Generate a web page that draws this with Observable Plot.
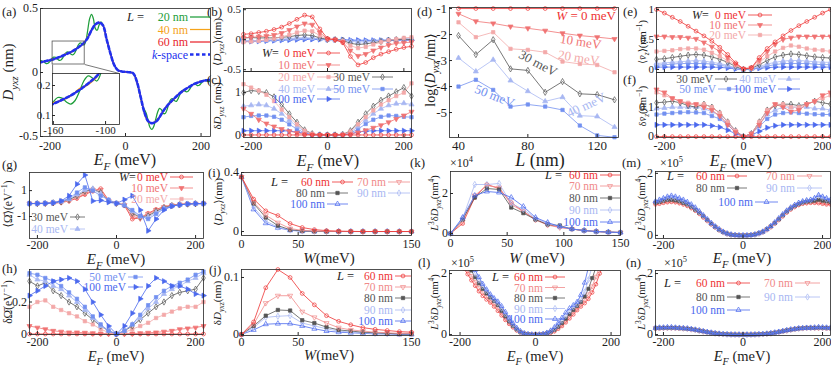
<!DOCTYPE html>
<html><head><meta charset="utf-8">
<script src="https://cdn.jsdelivr.net/npm/d3@7"></script>
<script src="https://cdn.jsdelivr.net/npm/@observablehq/plot@0.6"></script>
<style>
body{margin:0;background:#fff;}
#fig{position:relative;width:831px;height:366px;overflow:hidden;background:#fff;}
</style></head><body><div id="fig"></div>
<script>
// ---------------- data ----------------
const EA5 = [-230,-225,-220,-215,-210,-205,-200,-195,-190,-185,-180,-175,-170,-165,-160,-155,-150,-145,-140,-135,-130,-125,-120,-115,-110,-105,-100,-95,-90,-85,-80,-75,-70,-65,-60,-55,-50,-45,-40,-35,-30,-25,-20,-15,-10,-5,0,5,10,15,20,25,30,35,40,45,50,55,60,65,70,75,80,85,90,95,100,105,110,115,120,125,130,135,140,145,150,155,160,165,170,175,180,185,190,195,200,205,210,215,220,225,230];
const EA10 = [-230,-220,-210,-200,-190,-180,-170,-160,-150,-140,-130,-120,-110,-100,-90,-80,-70,-60,-50,-40,-30,-20,-10,0,10,20,30,40,50,60,70,80,90,100,110,120,130,140,150,160,170,180,190,200,210,220,230];
const E20 = [-220,-200,-180,-160,-140,-120,-100,-80,-60,-40,-20,0,20,40,60,80,100,120,140,160,180,200,220];
const E10 = [-220,-210,-200,-190,-180,-170,-160,-150,-140,-130,-120,-110,-100,-90,-80,-70,-60,-50,-40,-30,-20,-10,0,10,20,30,40,50,60,70,80,90,100,110,120,130,140,150,160,170,180,190,200,210,220];
const Lsizes = [40,50,60,70,80,90,100,110,120,130];
const Wvals = [0,10.7,21.4,32.1,42.9,53.6,64.3,75,85.7,96.4,107.1,117.9,128.6,139.3,150];

// (a) D_yxz vs E_F
const aL20 = [0.085,0.092,0.090,0.080,0.070,0.072,0.088,0.108,0.120,0.118,0.105,0.095,0.100,0.120,0.145,0.160,0.158,0.145,0.138,0.150,0.180,0.215,0.232,0.225,0.215,0.245,0.330,0.420,0.455,0.420,0.345,0.330,0.370,0.395,0.375,0.325,0.265,0.205,0.150,0.100,0.060,0.032,0.016,0.010,0.008,0.006,0.005,0.003,0.002,0.000,-0.008,-0.030,-0.075,-0.135,-0.200,-0.260,-0.290,-0.320,-0.380,-0.430,-0.445,-0.420,-0.365,-0.310,-0.280,-0.290,-0.320,-0.320,-0.290,-0.240,-0.210,-0.205,-0.220,-0.225,-0.200,-0.165,-0.140,-0.140,-0.150,-0.148,-0.130,-0.105,-0.090,-0.092,-0.102,-0.100,-0.085,-0.068,-0.060,-0.064,-0.072,-0.068,-0.058];
const aL40 = [0.078,0.086,0.088,0.094,0.108,0.113,0.124,0.143,0.150,0.165,0.19,0.203,0.228,0.28,0.335,0.372,0.392,0.372,0.262,0.15,0.06,0.018,0.008,0.005,0.002,-0.005,-0.072,-0.19,-0.315,-0.385,-0.398,-0.38,-0.345,-0.305,-0.258,-0.232,-0.205,-0.168,-0.15,-0.132,-0.107,-0.093,-0.083,-0.068,-0.064,-0.057,-0.052];
const aL60 = [0.077,0.083,0.089,0.097,0.105,0.114,0.127,0.139,0.153,0.167,0.186,0.206,0.233,0.27,0.331,0.376,0.391,0.371,0.261,0.15,0.06,0.018,0.008,0.005,0.002,-0.005,-0.071,-0.19,-0.311,-0.381,-0.397,-0.385,-0.351,-0.301,-0.261,-0.231,-0.2,-0.171,-0.149,-0.128,-0.109,-0.093,-0.08,-0.069,-0.063,-0.058,-0.054];
const aK = [0.076,0.083,0.090,0.096,0.104,0.115,0.126,0.139,0.152,0.167,0.185,0.207,0.232,0.27,0.33,0.375,0.39,0.37,0.26,0.15,0.06,0.018,0.008,0.005,0.002,-0.005,-0.07,-0.19,-0.31,-0.38,-0.396,-0.385,-0.35,-0.30,-0.262,-0.23,-0.20,-0.172,-0.148,-0.128,-0.11,-0.092,-0.08,-0.07,-0.063,-0.058,-0.054];

// (b) <D_yxz> vs E_F for W
const bW0 = [0.09,0.10,0.12,0.14,0.17,0.21,0.27,0.34,0.41,0.38,0.18,0.02,0.0,-0.05,-0.28,-0.42,-0.38,-0.3,-0.24,-0.2,-0.16,-0.13,-0.11];
const bW10 = [0.03,0.04,0.05,0.06,0.08,0.11,0.16,0.22,0.27,0.25,0.12,0.01,0,-0.04,-0.18,-0.27,-0.24,-0.18,-0.13,-0.09,-0.06,-0.05,-0.04];
const bW20 = [-0.04,-0.03,-0.02,0.0,0.02,0.05,0.08,0.12,0.15,0.14,0.07,0.01,0,-0.02,-0.1,-0.14,-0.12,-0.08,-0.04,-0.01,0.01,0.03,0.04];
const bW30 = [0.03,0.035,0.03,0.03,0.03,0.04,0.05,0.07,0.08,0.07,0.03,0.005,0,-0.01,-0.06,-0.08,-0.07,-0.05,-0.03,-0.01,0.0,0.01,0.0];
const bW40 = [-0.02,-0.02,-0.015,-0.01,0.0,0.01,0.02,0.03,0.035,0.03,0.015,0.002,0,-0.005,-0.025,-0.04,-0.035,-0.025,-0.015,-0.005,0.0,0.01,0.015];
const bW50 = [-0.02,-0.02,-0.02,-0.015,-0.01,0.0,0.01,0.015,0.02,0.02,0.01,0.001,0,-0.003,-0.015,-0.02,-0.02,-0.015,-0.01,-0.005,0.0,0.005,0.01];
const bW100 = [-0.03,-0.03,-0.025,-0.02,-0.015,-0.01,-0.005,0.0,0.005,0.005,0.003,0.0,0,0.0,-0.005,-0.008,-0.01,-0.01,-0.01,-0.01,-0.01,-0.01,-0.01];

// (c) delta D_yxz vs E_F
const cW0 = [0,0,0,0,0,0,0,0,0,0,0,0,0,0,0,0,0,0,0,0,0,0,0];
const cW10 = [0.62,0.5,0.36,0.27,0.2,0.14,0.09,0.05,0.02,0.005,0,0,0,0.003,0.02,0.06,0.11,0.17,0.23,0.3,0.38,0.46,0.55];
const cW20 = [1.2,1.12,1.05,0.95,0.8,0.6,0.42,0.25,0.1,0.03,0,0,0,0.01,0.08,0.25,0.42,0.58,0.72,0.82,0.92,1.0,1.22];
const cW30 = [1.0,1.05,1.03,1.0,0.9,0.72,0.5,0.3,0.12,0.03,0.0,0,0,0.01,0.1,0.3,0.5,0.68,0.82,0.92,1.02,1.12,0.92];
const cW40 = [0.68,0.7,0.72,0.7,0.62,0.5,0.35,0.2,0.08,0.02,0,0,0,0.01,0.06,0.2,0.35,0.5,0.62,0.7,0.74,0.75,0.72];
const cW50 = [0.42,0.45,0.46,0.46,0.43,0.36,0.25,0.14,0.05,0.01,0,0,0,0.005,0.04,0.14,0.26,0.36,0.43,0.46,0.45,0.43,0.42];
const cW100 = [0.1,0.1,0.1,0.1,0.1,0.1,0.09,0.07,0.04,0.01,0,0,0,0.005,0.03,0.07,0.09,0.1,0.1,0.1,0.1,0.1,0.1];

// (d) log<D> vs L
const dW0 = [-1,-1,-1,-1,-1,-1,-1,-1,-1,-1];
const dW10 = [-1.2,-1.49,-1.57,-1.69,-1.76,-1.85,-1.95,-2.04,-2.1,-2.17];
const dW20 = [-1.53,-2.1,-1.91,-2.55,-2.59,-2.68,-3.04,-3.13,-3.17,-3.45];
const dW30 = [-2.04,-2.77,-2.2,-3.32,-3.38,-4.22,-3.81,-4.28,-4.31,-4.51];
const dW40 = [-2.9,-3.42,-2.97,-3.77,-4.18,-4.57,-4.41,-5.12,-5.15,-5.56];
const dW50 = [-4.0,-3.74,-4.13,-4.77,-4.69,-4.77,-4.9,-5.5,-5.88,-5.95];

// (e) <v_z> vs E_F
const eW0 = [1.0,0.94,0.87,0.8,0.72,0.64,0.56,0.47,0.37,0.25,0.11,0.01,0.03,0.2,0.35,0.46,0.56,0.65,0.73,0.8,0.87,0.94,1.0];
const eW10 = [0.55,0.55,0.54,0.54,0.53,0.51,0.45,0.38,0.3,0.2,0.09,0.01,0.03,0.16,0.3,0.42,0.5,0.53,0.55,0.55,0.55,0.55,0.55];
const eW20 = [0.3,0.31,0.32,0.34,0.35,0.35,0.33,0.28,0.22,0.15,0.07,0.01,0.02,0.12,0.22,0.3,0.36,0.4,0.38,0.35,0.33,0.32,0.3];
const eW30 = [0.17,0.18,0.2,0.22,0.24,0.25,0.24,0.21,0.17,0.12,0.05,0.0,0.02,0.08,0.15,0.21,0.24,0.26,0.25,0.23,0.21,0.2,0.19];
const eW40 = [0.1,0.11,0.12,0.13,0.14,0.15,0.14,0.12,0.1,0.07,0.03,0.0,0.01,0.05,0.09,0.12,0.14,0.15,0.15,0.14,0.13,0.12,0.12];
const eW50 = [0.07,0.08,0.09,0.1,0.1,0.1,0.1,0.09,0.07,0.05,0.02,0.0,0.01,0.03,0.06,0.08,0.1,0.1,0.1,0.1,0.09,0.08,0.08];
const eW100 = [0.04,0.04,0.04,0.04,0.04,0.04,0.04,0.04,0.035,0.025,0.01,0.0,0.005,0.02,0.03,0.04,0.04,0.04,0.04,0.04,0.04,0.04,0.04];

// (f) delta v_z vs E_F
const fW0 = [0,0,0,0,0,0,0,0,0,0,0,0,0,0,0,0,0,0,0,0,0,0,0];
const fW10 = [0.16,0.15,0.13,0.12,0.11,0.11,0.1,0.09,0.07,0.04,0.015,0.0,0.01,0.04,0.08,0.11,0.1,0.085,0.09,0.11,0.12,0.14,0.15];
const fW20 = [0.15,0.14,0.13,0.12,0.115,0.11,0.11,0.1,0.08,0.05,0.02,0.0,0.01,0.05,0.09,0.11,0.11,0.1,0.1,0.11,0.12,0.13,0.14];
const fW30 = [0.115,0.117,0.12,0.115,0.105,0.1,0.11,0.1,0.08,0.05,0.02,0.0,0.01,0.05,0.09,0.105,0.11,0.11,0.105,0.11,0.12,0.115,0.11];
const fW40 = [0.095,0.097,0.1,0.1,0.1,0.1,0.095,0.085,0.07,0.045,0.02,0.0,0.01,0.04,0.075,0.09,0.1,0.1,0.1,0.1,0.095,0.095,0.09];
const fW50 = [0.075,0.078,0.08,0.082,0.083,0.082,0.08,0.07,0.06,0.04,0.015,0.0,0.01,0.035,0.06,0.075,0.08,0.082,0.08,0.078,0.076,0.075,0.075];
const fW100 = [0.04,0.04,0.04,0.04,0.04,0.04,0.04,0.037,0.032,0.022,0.01,0.0,0.005,0.018,0.03,0.037,0.04,0.04,0.04,0.04,0.04,0.04,0.04];

// (g) <Omega> vs E_F
const gW0 = [0,0,0,0.03,0.08,0.2,0.4,0.7,0.95,1.15,0.25,0.02,-0.15,-1.2,-1.1,-0.75,-0.45,-0.25,-0.12,-0.06,-0.03,-0.01,0];
const gW10 = [0,0,0.01,0.04,0.1,0.22,0.45,0.75,1.05,1.05,0.2,0.02,-0.12,-1.0,-1.15,-0.8,-0.5,-0.28,-0.14,-0.07,-0.03,-0.01,0];
const gW20 = [0,0.01,0.02,0.05,0.12,0.25,0.5,0.85,1.1,0.95,0.2,0.02,-0.1,-0.85,-1.1,-0.85,-0.55,-0.3,-0.15,-0.08,-0.04,-0.01,0];
const gW30 = [0,0.01,0.02,0.06,0.14,0.3,0.6,0.95,1.1,0.85,0.2,0.02,-0.1,-0.75,-1.05,-0.95,-0.6,-0.32,-0.16,-0.08,-0.04,-0.01,0];
const gW40 = [0,0.01,0.03,0.07,0.16,0.35,0.7,1.05,1.15,0.75,0.25,0.03,-0.1,-0.6,-1.0,-1.05,-0.7,-0.38,-0.18,-0.09,-0.04,-0.01,0];
const gW50 = [0,0.01,0.03,0.08,0.18,0.4,0.85,1.25,1.0,0.6,0.3,0.03,-0.15,-0.5,-0.95,-1.2,-0.8,-0.4,-0.2,-0.1,-0.04,-0.01,0];
const gW100 = [0,0,0.01,0.05,0.2,0.6,1.5,2.2,0.2,0.25,0.1,0.0,0.3,0.6,-0.5,-2.1,-1.2,-0.5,-0.2,-0.1,-0.03,0,0];

// (h) delta Omega vs E_F
const hW0 = [0,0,0,0,0,0,0,0,0,0,0,0,0,0,0,0,0,0,0,0,0,0,0];
const hW10 = [0.05,0.04,0.03,0.02,0.015,0.01,0.01,0.008,0.005,0.003,0.001,0.0,0.001,0.003,0.005,0.008,0.01,0.015,0.02,0.03,0.035,0.04,0.05];
const hW20 = [0.17,0.2,0.21,0.17,0.15,0.13,0.11,0.08,0.06,0.03,0.01,0.0,0.01,0.03,0.05,0.07,0.1,0.12,0.14,0.16,0.17,0.17,0.2];
const hW30 = [0.33,0.3,0.32,0.27,0.24,0.2,0.17,0.13,0.09,0.05,0.02,0.0,0.02,0.05,0.09,0.13,0.17,0.2,0.24,0.26,0.27,0.28,0.35];
const hW40 = [0.37,0.34,0.33,0.3,0.28,0.24,0.2,0.15,0.1,0.05,0.02,0.0,0.02,0.06,0.1,0.16,0.2,0.25,0.28,0.3,0.33,0.35,0.38];
const hW50 = [0.38,0.37,0.35,0.33,0.3,0.26,0.22,0.17,0.11,0.06,0.02,0.0,0.02,0.06,0.12,0.18,0.23,0.27,0.3,0.32,0.34,0.37,0.39];
const hW100 = [0.24,0.27,0.3,0.33,0.34,0.35,0.33,0.28,0.2,0.12,0.05,0.0,0.05,0.13,0.22,0.3,0.35,0.33,0.3,0.3,0.28,0.25,0.24];

// (i) <D_yxz> vs W
const iL60 = [0.37,0.22,0.14,0.108,0.054,0.027,0.013,0.006,0.003,0.001,0,0,0,0,0];
const iL70 = [0.37,0.2,0.11,0.06,0.02,0.008,0.003,0.001,0,0,0,0,0,0,0];
const iL80 = [0.37,0.19,0.095,0.04,0.012,0.004,0.001,0,0,0,0,0,0,0,0];
const iL90 = [0.37,0.165,0.07,0.03,0.01,0.003,0.001,0,0,0,0,0,0,0,0];
const iL100 = [0.37,0.15,0.056,0.025,0.008,0.002,0,0,0,0,0,0,0,0,0];

// (j) delta D_yxz vs W
const jL60 = [0,0.022,0.082,0.114,0.1,0.072,0.052,0.033,0.023,0.017,0.012,0.009,0.007,0.005,0.004];
const jL70 = [0,0.018,0.055,0.068,0.068,0.04,0.03,0.02,0.012,0.008,0.006,0.004,0.003,0.002,0.002];
const jL80 = [0,0.015,0.033,0.043,0.042,0.025,0.02,0.013,0.008,0.006,0.004,0.003,0.002,0.001,0.001];
const jL90 = [0,0.012,0.03,0.032,0.033,0.02,0.015,0.01,0.006,0.004,0.003,0.002,0.001,0.001,0.001];
const jL100 = [0,0.008,0.018,0.019,0.019,0.015,0.01,0.006,0.004,0.003,0.002,0.001,0.001,0,0];

// (k) L^3 delta D vs W (x1e4 nm^4)
const kL60 = [0,0.5,1.8,2.45,2.25,1.55,1.1,0.7,0.45,0.32,0.22,0.15,0.1,0.07,0.05];
const kL70 = [0,0.6,1.9,2.4,2.3,1.45,1.1,0.68,0.42,0.3,0.22,0.15,0.1,0.07,0.05];
const kL80 = [0,0.7,1.8,2.25,2.2,1.3,1.02,0.7,0.45,0.4,0.22,0.15,0.1,0.07,0.05];
const kL90 = [0,0.75,2.45,2.45,2.5,1.5,1.2,0.75,0.5,0.35,0.23,0.15,0.1,0.07,0.05];
const kL100 = [0,0.8,1.9,2.1,2.05,1.8,1.35,0.8,0.55,0.35,0.23,0.15,0.1,0.07,0.05];

// (l) L^3 delta D vs E_F (x1e5 nm^4)
const lL60 = [2.6,2.45,2.3,2.17,1.98,1.78,1.6,1.42,1.27,1.15,1.05,0.92,0.78,0.63,0.48,0.35,0.24,0.14,0.07,0.03,0.01,0,0,0,0.01,0.03,0.06,0.11,0.19,0.28,0.4,0.53,0.66,0.8,0.92,1.03,1.17,1.38,1.65,2.0,2.3,2.55,2.8,3.0,3.2];
const lL70 = [2.8,2.65,2.5,2.35,2.13,1.92,1.72,1.54,1.38,1.24,1.12,1.02,0.86,0.7,0.54,0.39,0.26,0.15,0.07,0.03,0.01,0,0,0,0.01,0.03,0.07,0.13,0.22,0.32,0.45,0.59,0.73,0.87,1.0,1.14,1.32,1.58,1.9,2.25,2.55,2.8,3.0,3.2,3.4];
const lL80 = [3.0,2.85,2.7,2.52,2.32,2.1,1.88,1.68,1.5,1.35,1.22,1.1,0.97,0.78,0.6,0.43,0.29,0.17,0.08,0.03,0.01,0,0,0,0.01,0.04,0.09,0.16,0.26,0.38,0.52,0.67,0.81,0.94,1.07,1.25,1.5,1.85,2.2,2.5,2.8,3.0,3.2,3.4,3.6];
const lL90 = [3.1,2.95,2.8,2.62,2.43,2.22,2.0,1.78,1.59,1.43,1.28,1.15,1.03,0.86,0.67,0.49,0.33,0.19,0.09,0.04,0.01,0,0,0,0.01,0.05,0.11,0.2,0.32,0.46,0.62,0.77,0.9,1.0,1.15,1.4,1.8,2.25,2.6,2.9,3.1,3.3,3.5,3.7,3.9];
const lL100 = [3.2,3.05,2.9,2.72,2.53,2.33,2.12,1.88,1.66,1.48,1.32,1.19,1.08,0.93,0.74,0.55,0.37,0.22,0.11,0.04,0.01,0,0,0,0.02,0.06,0.13,0.24,0.38,0.55,0.72,0.86,0.96,1.07,1.3,1.7,2.2,2.6,2.9,3.1,3.3,3.5,3.7,3.9,4.1];

// (m) L^3 delta D vs E_F (x1e5 nm^4)
const mL60 = [1.0,1.02,1.05,1.07,1.08,1.07,1.04,1.0,0.95,0.88,0.8,0.7,0.58,0.47,0.36,0.26,0.17,0.1,0.05,0.02,0.01,0.0,0.0,0.0,0.01,0.03,0.06,0.11,0.18,0.27,0.38,0.5,0.62,0.74,0.84,0.92,0.98,1.02,1.04,1.05,1.05,1.04,1.02,1.0,1.0];
const mL70 = [1.03,1.05,1.08,1.1,1.1,1.09,1.06,1.02,0.97,0.9,0.81,0.71,0.6,0.48,0.37,0.27,0.18,0.1,0.05,0.02,0.01,0.0,0.0,0.0,0.01,0.03,0.06,0.11,0.19,0.28,0.39,0.51,0.63,0.75,0.85,0.93,1.0,1.04,1.06,1.07,1.08,1.1,1.08,1.05,1.04];
const mL80 = [1.06,1.08,1.12,1.15,1.15,1.13,1.1,1.05,1.0,0.92,0.83,0.73,0.62,0.5,0.38,0.28,0.18,0.11,0.06,0.02,0.01,0.0,0.0,0.0,0.01,0.03,0.07,0.12,0.2,0.29,0.4,0.52,0.65,0.77,0.87,0.95,1.01,1.06,1.09,1.1,1.12,1.15,1.12,1.1,1.08];
const mL90 = [1.08,1.12,1.16,1.2,1.22,1.2,1.15,1.1,1.03,0.95,0.86,0.75,0.63,0.51,0.39,0.28,0.19,0.11,0.06,0.02,0.01,0.0,0.0,0.0,0.01,0.03,0.07,0.12,0.2,0.3,0.41,0.54,0.67,0.79,0.89,0.97,1.04,1.08,1.12,1.14,1.2,1.28,1.22,1.16,1.12];
const mL100 = [1.1,1.15,1.2,1.25,1.28,1.25,1.2,1.15,1.08,1.0,0.9,0.78,0.65,0.52,0.4,0.29,0.2,0.12,0.06,0.03,0.01,0.0,0.0,0.0,0.01,0.03,0.07,0.12,0.2,0.3,0.42,0.55,0.68,0.8,0.9,0.98,1.05,1.1,1.13,1.15,1.2,1.3,1.25,1.2,1.15];

// (n) L^3 delta D vs E_F (x1e5 nm^4)
const nL60 = [0.2,0.2,0.21,0.21,0.21,0.21,0.2,0.2,0.19,0.17,0.15,0.12,0.1,0.08,0.06,0.04,0.025,0.015,0.008,0.003,0.001,0,0,0,0.001,0.003,0.008,0.015,0.025,0.04,0.06,0.08,0.1,0.13,0.15,0.17,0.19,0.2,0.21,0.21,0.21,0.21,0.21,0.2,0.2];
const nL70 = [0.21,0.21,0.22,0.22,0.22,0.21,0.21,0.2,0.19,0.17,0.15,0.13,0.1,0.08,0.06,0.04,0.026,0.015,0.008,0.003,0.001,0,0,0,0.001,0.003,0.008,0.016,0.026,0.04,0.06,0.085,0.11,0.13,0.16,0.18,0.2,0.21,0.22,0.22,0.22,0.22,0.22,0.21,0.21];
const nL80 = [0.21,0.22,0.22,0.22,0.22,0.22,0.21,0.2,0.19,0.18,0.16,0.13,0.11,0.08,0.06,0.04,0.027,0.016,0.008,0.003,0.001,0,0,0,0.001,0.003,0.009,0.017,0.028,0.043,0.063,0.087,0.11,0.14,0.16,0.18,0.2,0.21,0.22,0.22,0.22,0.23,0.22,0.22,0.21];
const nL90 = [0.22,0.22,0.23,0.23,0.23,0.22,0.22,0.21,0.2,0.18,0.16,0.13,0.11,0.085,0.062,0.042,0.027,0.016,0.008,0.003,0.001,0,0,0,0.001,0.003,0.009,0.017,0.028,0.044,0.064,0.088,0.115,0.14,0.165,0.185,0.2,0.21,0.22,0.22,0.23,0.24,0.23,0.22,0.22];
const nL100 = [0.22,0.23,0.23,0.24,0.24,0.23,0.22,0.21,0.2,0.18,0.16,0.14,0.11,0.087,0.064,0.043,0.028,0.017,0.009,0.003,0.001,0,0,0,0.001,0.004,0.01,0.018,0.03,0.045,0.066,0.09,0.117,0.143,0.168,0.188,0.203,0.213,0.22,0.225,0.23,0.24,0.235,0.23,0.225];

// tick values
const ticksE = [-200,0,200];
const ticksW = [0,50,150];
const ticksWk = [0,50,100,150];
const ticksL = [40,80,120];

// ---------------- styles ----------------
const FONT = '"Liberation Serif","DejaVu Serif",serif';
const WS = {
  w0:{c:"#ee3333",sym:"circle",rot:0,fill:false},
  w10:{c:"#f07474",sym:"triangle",rot:180,fill:true},
  w20:{c:"#f3a9a9",sym:"square",rot:0,fill:true},
  w30:{c:"#555555",sym:"diamond",rot:0,fill:false},
  w40:{c:"#a8b7f2",sym:"triangle",rot:0,fill:true},
  w50:{c:"#7391f0",sym:"square",rot:0,fill:true},
  w100:{c:"#4b69ee",sym:"triangle",rot:90,fill:true}
};
const LS = {
  l60:{c:"#ee3333",sym:"circle",rot:0,fill:false},
  l70:{c:"#f08a8a",sym:"triangle",rot:180,fill:false},
  l80:{c:"#555555",sym:"square",rot:0,fill:true},
  l90:{c:"#a8b7f2",sym:"diamond",rot:0,fill:false},
  l100:{c:"#4b69ee",sym:"triangle",rot:0,fill:false}
};
const fig = document.getElementById("fig");
const symMap = {circle:d3.symbolCircle,triangle:d3.symbolTriangle,square:d3.symbolSquare,diamond:d3.symbolDiamond};
const R = 1.9;

function series(xs, ys, st, o = {}) {
  const data = xs.map((x, i) => ({x, y: ys[i]}));
  const out = [Plot.line(data, {x:"x", y:"y", stroke:st.c, strokeWidth:o.sw ?? 0.8, clip:o.clip ?? false, curve:o.curve ?? "linear", strokeDasharray:o.dash})];
  if (st.sym) out.push(Plot.dot(data, {x:"x", y:"y", symbol:st.sym, rotate:st.rot ?? 0, r:o.r ?? R, stroke:st.c, strokeWidth:0.7, fill:st.fill ? st.c : "none", clip:o.clip ?? false}));
  return out;
}

function panel(p) {
  const mL = 40, mR = 8, mT = 8, mB = 24;
  const w = p.R - p.L, h = p.B - p.T;
  const marks = [];
  if (p.white) marks.push(Plot.frame({fill:"white", stroke:"none"}));
  marks.push(...p.marks);
  marks.push(Plot.frame({stroke:"#262626", strokeWidth:0.8}));
  const fs = p.fs ?? 11;
  marks.push(Plot.axisX(p.xt, {anchor:"bottom", tickSize:-3, tickPadding:p.xPad ?? 7, tickFormat:p.xNo ? () => "" : (d => String(d)), label:null, stroke:"#262626", fontSize:fs}));
  marks.push(Plot.axisY(p.yt, {anchor:"left", tickSize:-3, tickPadding:p.yPad ?? 5.5, tickFormat:p.yNo ? () => "" : (d => String(d)), label:null, stroke:"#262626", fontSize:fs}));
  const svg = Plot.plot({
    width:w + mL + mR, height:h + mT + mB,
    marginLeft:mL, marginRight:mR, marginTop:mT, marginBottom:mB,
    x:{domain:p.xd}, y:{domain:p.yd},
    style:{background:"transparent", overflow:"visible", fontFamily:FONT, fontSize:fs + "px", color:"#1e1e1e"},
    marks
  });
  svg.style.position = "absolute";
  svg.style.left = (p.L - mL) + "px";
  svg.style.top = (p.T - mT) + "px";
  svg.style.maxWidth = "none";
  fig.appendChild(svg);
}

// ---------------- panels ----------------
const insetBox = [{x1:-193, x2:-108, y1:0.0625, y2:0.242}];
const zoomLinks = [{x1:-193, y1:0.0625, x2:-193, y2:-0.008},{x1:-108, y1:0.0625, x2:-16, y2:-0.008}];

// (a)
panel({L:40,T:8,R:210,B:136, xd:[-225,225], yd:[-0.5,0.5], xt:ticksE, yt:[-0.5,0,0.5], xPad:8, fs:12, marks:[
  ...series(EA5, aL20, {c:"#1e9e3a"}, {sw:1.25, clip:true, curve:"catmull-rom"}),
  ...series(EA10, aL40, {c:"#f5a31a"}, {sw:1.25, clip:true, curve:"catmull-rom"}),
  ...series(EA10, aL60, {c:"#e8262d"}, {sw:1.25, clip:true, curve:"catmull-rom"}),
  ...series(EA10, aK, {c:"#2130ee"}, {sw:2.6, clip:true, curve:"catmull-rom", dash:"3.5,2.5"}),
  Plot.rect(insetBox, {x1:"x1", x2:"x2", y1:"y1", y2:"y2", fill:"none", stroke:"#555", strokeWidth:0.8}),
  Plot.link(zoomLinks, {x1:"x1", y1:"y1", x2:"x2", y2:"y2", stroke:"#555", strokeWidth:0.8})
]});
// inset
panel({L:52,T:73,R:119,B:124, white:true, fs:11, xPad:5, yPad:5, xd:[-161,-84], yd:[0.07,0.24], xt:[-160,-100], yt:[0.1,0.2], marks:[
  ...series(EA5, aL20, {c:"#1e9e3a"}, {sw:1.25, clip:true, curve:"catmull-rom"}),
  ...series(EA10, aL40, {c:"#f5a31a"}, {sw:1.25, clip:true, curve:"catmull-rom"}),
  ...series(EA10, aL60, {c:"#e8262d"}, {sw:1.25, clip:true, curve:"catmull-rom"}),
  ...series(EA10, aK, {c:"#2130ee"}, {sw:2.6, clip:true, curve:"catmull-rom", dash:"3.5,2.5"})
]});

// (b)
panel({L:243,T:8,R:411,B:71, xd:[-220,220], yd:[-0.53,0.52], xt:ticksE, yt:[-0.5,0,0.5], xNo:true, marks:[
  ...series(E20,bW100,WS.w100), ...series(E20,bW50,WS.w50), ...series(E20,bW40,WS.w40),
  ...series(E20,bW30,WS.w30), ...series(E20,bW20,WS.w20), ...series(E20,bW10,WS.w10), ...series(E20,bW0,WS.w0)
]});
// (c)
panel({L:243,T:71,R:411,B:137, xd:[-220,220], yd:[-0.06,1.5], xt:ticksE, yt:[0,1], xPad:7, fs:12, marks:[
  ...series(E20,cW100,WS.w100), ...series(E20,cW50,WS.w50), ...series(E20,cW40,WS.w40),
  ...series(E20,cW30,WS.w30), ...series(E20,cW20,WS.w20), ...series(E20,cW10,WS.w10), ...series(E20,cW0,WS.w0)
]});
// (d)
panel({L:449,T:7,R:618,B:137, xd:[34.8,132.3], yd:[-5.96,-0.96], xt:ticksL, yt:[-5,-4,-3,-2,-1], fs:13, xPad:6, marks:[
  ...series(Lsizes,dW50,WS.w50), ...series(Lsizes,dW40,WS.w40), ...series(Lsizes,dW30,WS.w30),
  ...series(Lsizes,dW20,WS.w20), ...series(Lsizes,dW10,WS.w10), ...series(Lsizes,dW0,WS.w0)
]});
// (e)
panel({L:656,T:7,R:830,B:72, xd:[-220,220], yd:[-0.05,1.033], xt:ticksE, yt:[0,0.5,1], xNo:true, marks:[
  ...series(E20,eW100,WS.w100), ...series(E20,eW50,WS.w50), ...series(E20,eW40,WS.w40),
  ...series(E20,eW30,WS.w30), ...series(E20,eW20,WS.w20), ...series(E20,eW10,WS.w10), ...series(E20,eW0,WS.w0)
]});
// (f)
panel({L:656,T:72,R:830,B:137, xd:[-220,220], yd:[-0.003,0.2175], xt:ticksE, yt:[0,0.1], xPad:7, fs:12, marks:[
  ...series(E20,fW100,WS.w100), ...series(E20,fW50,WS.w50), ...series(E20,fW40,WS.w40),
  ...series(E20,fW30,WS.w30), ...series(E20,fW20,WS.w20), ...series(E20,fW10,WS.w10), ...series(E20,fW0,WS.w0)
]});
// (g)
panel({L:29,T:172,R:203,B:238, xd:[-220,220], yd:[-2.7,2.4], xt:ticksE, yt:[-1,1], xPad:4.5, fs:12, marks:[
  ...series(E20,gW0,WS.w0), ...series(E20,gW10,WS.w10), ...series(E20,gW20,WS.w20), ...series(E20,gW30,WS.w30),
  ...series(E20,gW40,WS.w40), ...series(E20,gW50,WS.w50), ...series(E20,gW100,WS.w100)
]});
// (h)
panel({L:29,T:269,R:203,B:334, xd:[-220,220], yd:[-0.003,0.403], xt:ticksE, yt:[0,0.2], xPad:5.5, fs:12, marks:[
  ...series(E20,hW0,WS.w0), ...series(E20,hW10,WS.w10), ...series(E20,hW20,WS.w20), ...series(E20,hW30,WS.w30),
  ...series(E20,hW40,WS.w40), ...series(E20,hW50,WS.w50), ...series(E20,hW100,WS.w100)
]});
// (i)
panel({L:241,T:172,R:411,B:235, xd:[0,150], yd:[-0.027,0.4], xt:ticksW, yt:[0,0.4], xPad:7, fs:12, marks:[
  ...series(Wvals,iL100,LS.l100), ...series(Wvals,iL90,LS.l90), ...series(Wvals,iL80,LS.l80),
  ...series(Wvals,iL70,LS.l70), ...series(Wvals,iL60,LS.l60)
]});
// (j)
panel({L:241,T:269,R:411,B:335, xd:[0,150], yd:[-0.0018,0.114], xt:ticksW, yt:[0,0.1], xPad:5, fs:12, marks:[
  ...series(Wvals,jL100,LS.l100), ...series(Wvals,jL90,LS.l90), ...series(Wvals,jL80,LS.l80),
  ...series(Wvals,jL70,LS.l70), ...series(Wvals,jL60,LS.l60)
]});
// (k)
panel({L:450,T:171,R:620,B:235, xd:[0,150], yd:[-0.1,3.1], xt:ticksWk, yt:[0,2], xPad:6, fs:12, marks:[
  ...series(Wvals,kL60,LS.l60), ...series(Wvals,kL70,LS.l70), ...series(Wvals,kL80,LS.l80),
  ...series(Wvals,kL90,LS.l90), ...series(Wvals,kL100,LS.l100)
]});
// (l)
panel({L:449,T:270,R:620,B:335, xd:[-228,225], yd:[-0.03,2.1], xt:ticksE, yt:[0,2], xPad:4.5, fs:12, marks:[
  ...series(E10,lL60,LS.l60,{clip:true,r:1.8}), ...series(E10,lL70,LS.l70,{clip:true,r:1.8}), ...series(E10,lL80,LS.l80,{clip:true,r:1.8}),
  ...series(E10,lL90,LS.l90,{clip:true,r:1.8}), ...series(E10,lL100,LS.l100,{clip:true,r:1.8})
]});
// (m)
panel({L:655,T:171,R:830,B:238, xd:[-220,220], yd:[-0.1,2.06], xt:ticksE, yt:[0,2], xPad:4.5, fs:12, marks:[
  ...series(E10,mL60,LS.l60,{r:1.8}), ...series(E10,mL70,LS.l70,{r:1.8}), ...series(E10,mL80,LS.l80,{r:1.8}),
  ...series(E10,mL90,LS.l90,{r:1.8}), ...series(E10,mL100,LS.l100,{r:1.8})
]});
// (n)
panel({L:655,T:270,R:830,B:335, xd:[-220,220], yd:[-0.03,2.1], xt:ticksE, yt:[0,2], xPad:4.5, fs:12, marks:[
  ...series(E10,nL60,LS.l60,{r:1.8}), ...series(E10,nL70,LS.l70,{r:1.8}), ...series(E10,nL80,LS.l80,{r:1.8}),
  ...series(E10,nL90,LS.l90,{r:1.8}), ...series(E10,nL100,LS.l100,{r:1.8})
]});

// ---------------- text overlay ----------------
const ov = d3.create("svg").attr("width",831).attr("height",366)
  .style("position","absolute").style("left","0px").style("top","0px").style("pointer-events","none")
  .style("font-family",FONT).style("overflow","visible");
fig.appendChild(ov.node());
const g = ov.append("g");

function rich(x, y, parts, o = {}) {
  const size = o.size ?? 12;
  const t = g.append("text").attr("x",x).attr("y",y).attr("font-size",size)
    .attr("fill",o.color ?? "#1e1e1e").attr("text-anchor",o.anchor ?? "start");
  if (o.rotate) t.attr("transform",`rotate(${o.rotate},${x},${y})`);
  let shift = 0;
  for (const p of parts) {
    const s = typeof p === "string" ? p : p[0];
    const f = typeof p === "string" ? "" : (p[1] || "");
    const ts = t.append("tspan").text(s);
    let target = 0, fsz = size;
    if (f.includes("_")) { target = size * 0.3; fsz = size * 0.7; }
    if (f.includes("^")) { target = -size * 0.42; fsz = size * 0.7; }
    if (target !== shift) { ts.attr("dy", target - shift); shift = target; }
    ts.attr("font-size", fsz);
    if (f.includes("i")) ts.attr("font-style","italic");
  }
  return t;
}
function legItem(label, st, x1, x2, y, o = {}) {
  g.append("line").attr("x1",x1).attr("x2",x2).attr("y1",y).attr("y2",y)
    .attr("stroke",st.c).attr("stroke-width",o.sw ?? 0.8).attr("stroke-dasharray",o.dash ?? null);
  if (st.sym) g.append("path").attr("d", d3.symbol(symMap[st.sym], Math.PI * R * R)())
    .attr("transform",`translate(${(x1 + x2) / 2},${y}) rotate(${st.rot || 0})`)
    .attr("fill", st.fill ? st.c : "none").attr("stroke",st.c).attr("stroke-width",0.7);
  rich(x1 - 2, y + 4, label, {anchor:"end", color:st.c, size:o.size ?? 11.5});
}

const EF = [["E","i"],["F","_i"]," (meV)"];
const Wl = [["W","i"],"(meV)"];
const Dy = [["D","i"],["yxz","_i"]];
const L3 = [["L","i"],["3","^"],"δ",["D","i"],["yxz","_i"],"(nm",["4","^"],")"];

// panel letters
[["(a)",2,16],["(b)",207,16],["(c)",207,84],["(d)",417,16],["(e)",623,16],["(f)",623,84],
 ["(g)",2,169],["(h)",2,273],["(i)",208,177],["(j)",209,274],["(k)",410,167],["(l)",418,267],["(m)",622,167],["(n)",626,267]]
 .forEach(([s,x,y]) => rich(x,y,[s],{size:13}));

// x titles
rich(125,165,EF,{size:16,anchor:"middle"});
rich(328,166,EF,{size:16,anchor:"middle"});
rich(540,166,[["L","i"]," (nm)"],{size:18,anchor:"middle"});
rich(741,166,EF,{size:16,anchor:"middle"});
rich(116,264,EF,{size:15,anchor:"middle"});
rich(116,361,EF,{size:14.5,anchor:"middle"});
rich(329,263,Wl,{size:15,anchor:"middle"});
rich(329,360,Wl,{size:14.5,anchor:"middle"});
rich(537,263,[["W","i"]," (meV)"],{size:15,anchor:"middle"});
rich(535,361,EF,{size:14.5,anchor:"middle"});
rich(742,263,EF,{size:15,anchor:"middle"});
rich(742,361,EF,{size:14.5,anchor:"middle"});

// y titles
rich(13,72,[...Dy," (nm)"],{size:15,anchor:"middle",rotate:-90});
rich(221,42,["⟨",...Dy,"⟩(nm)"],{size:11,anchor:"middle",rotate:-90});
rich(221,106,["δ",...Dy," (nm)"],{size:11,anchor:"middle",rotate:-90});
rich(435,70,["log⟨",...Dy,"/nm⟩"],{size:14,anchor:"middle",rotate:-90});
rich(646,42,["⟨",["v̄","i"],["z","_i"],"⟩(nm",["−1","^"],")"],{size:10.5,anchor:"middle",rotate:-90});
rich(646,106,["δ",["v̄","i"],["z","_i"],"(nm",["−1","^"],")"],{size:10.5,anchor:"middle",rotate:-90});
rich(12,204,["⟨Ω̄⟩(eV",["−1","^"],")"],{size:11.5,anchor:"middle",rotate:-90});
rich(12,302,["δΩ̄(eV",["−1","^"],")"],{size:11.5,anchor:"middle",rotate:-90});
rich(222,202,["⟨",...Dy,"⟩(nm)"],{size:11,anchor:"middle",rotate:-90});
rich(221,303,["δ",...Dy,"(nm)"],{size:11,anchor:"middle",rotate:-90});
rich(438,203,L3,{size:10.5,anchor:"middle",rotate:-90});
rich(438,302,L3,{size:10.5,anchor:"middle",rotate:-90});
rich(645,203,L3,{size:10.5,anchor:"middle",rotate:-90});
rich(645,302,L3,{size:10.5,anchor:"middle",rotate:-90});

// multipliers
rich(450,167,["×10",["4","^"]],{size:12});
rich(451,267,["×10",["5","^"]],{size:12});
rich(660,167,["×10",["5","^"]],{size:12});
rich(664,267,["×10",["5","^"]],{size:12});

// (a) legend
rich(127,21,[["L","i"]," ="],{size:12.5});
legItem(["20 nm"],{c:"#1e9e3a"},190,210,17,{sw:1.25,size:12});
legItem(["40 nm"],{c:"#f5a31a"},190,210,29.5,{sw:1.25,size:12});
legItem(["60 nm"],{c:"#e8262d"},190,210,42,{sw:1.25,size:12});
legItem([["k","i"],"-space"],{c:"#2130ee"},190,210,54.5,{sw:2.6,dash:"3.5,2.5",size:12});

// (b),(c) legend
rich(262,57,[["W","i"],"="],{size:12});
legItem(["0 meV"],WS.w0,317,340,53);
legItem(["10 meV"],WS.w10,317,340,65);
legItem(["20 meV"],WS.w20,317,340,77);
legItem(["30 meV"],WS.w30,372,393,77);
legItem(["40 meV"],WS.w40,317,340,89);
legItem(["50 meV"],WS.w50,372,393,89);
legItem(["100 meV"],WS.w100,317,340,99);

// (d) labels
rich(616,20,[["W","i"]," = 0 meV"],{size:13,anchor:"end",color:WS.w0.c});
rich(580,46,["10 meV"],{size:13,anchor:"middle",color:WS.w10.c,rotate:9});
rich(578,62,["20 meV"],{size:13,anchor:"middle",color:WS.w20.c,rotate:9});
rich(536,67,["30 meV"],{size:13,anchor:"middle",color:WS.w30.c,rotate:28});
rich(588,109,["40 meV"],{size:13,anchor:"middle",color:WS.w40.c,rotate:-25});
rich(493,100,["50 meV"],{size:13,anchor:"middle",color:WS.w50.c,rotate:22});

// (e),(f) legend
rich(692,19,[["W","i"],"="],{size:12});
legItem(["0 meV"],WS.w0,748,772,15);
legItem(["10 meV"],WS.w10,748,772,25);
legItem(["20 meV"],WS.w20,748,772,35);
legItem(["30 meV"],WS.w30,715,737,79);
legItem(["40 meV"],WS.w40,778,800,79);
legItem(["50 meV"],WS.w50,718,740,89);
legItem(["100 meV"],WS.w100,778,800,89);

// (g),(h) legend
rich(119,181,[["W","i"],"="],{size:12});
legItem(["0 meV"],WS.w0,170,193,177);
legItem(["10 meV"],WS.w10,170,193,188);
legItem(["20 meV"],WS.w20,170,193,199);
legItem(["30 meV"],WS.w30,70,85,217);
legItem(["40 meV"],WS.w40,70,85,229);
legItem(["50 meV"],WS.w50,128,143,277);
legItem(["100 meV"],WS.w100,128,143,287);

// (i) legend
rich(271,186,[["L","i"]," ="],{size:12.5});
legItem(["60 nm"],LS.l60,332,353,182);
legItem(["70 nm"],LS.l70,388,410,182);
legItem(["80 nm"],LS.l80,327,348,193);
legItem(["90 nm"],LS.l90,388,410,193);
legItem(["100 nm"],LS.l100,327,348,204);

// (j) legend
rich(337,280,[["L","i"]," ="],{size:12.5});
legItem(["60 nm"],LS.l60,395,411,276);
legItem(["70 nm"],LS.l70,395,411,287);
legItem(["80 nm"],LS.l80,395,411,298);
legItem(["90 nm"],LS.l90,395,411,310);
legItem(["100 nm"],LS.l100,395,411,321);

// (k) legend
rich(545,179,[["L","i"]," ="],{size:12.5});
legItem(["60 nm"],LS.l60,600,620,175);
legItem(["70 nm"],LS.l70,600,620,186);
legItem(["80 nm"],LS.l80,600,620,198);
legItem(["90 nm"],LS.l90,600,620,210);
legItem(["100 nm"],LS.l100,600,620,222);

// (l) legend
rich(492,281,[["L","i"]," ="],{size:12.5});
legItem(["60 nm"],LS.l60,545,565,277);
legItem(["70 nm"],LS.l70,545,565,287.5);
legItem(["80 nm"],LS.l80,545,565,298);
legItem(["90 nm"],LS.l90,545,565,308.5);
legItem(["100 nm"],LS.l100,545,565,319);

// (m) legend
rich(667,180,[["L","i"]," ="],{size:12.5});
legItem(["60 nm"],LS.l60,727,747,176);
legItem(["70 nm"],LS.l70,797,822,176);
legItem(["80 nm"],LS.l80,727,747,188);
legItem(["90 nm"],LS.l90,797,822,188);
legItem(["100 nm"],LS.l100,755,778,202);

// (n) legend
rich(664,287,[["L","i"]," ="],{size:12.5});
legItem(["60 nm"],LS.l60,727,750,283);
legItem(["70 nm"],LS.l70,795,820,283);
legItem(["80 nm"],LS.l80,727,750,297);
legItem(["90 nm"],LS.l90,795,820,297);
legItem(["100 nm"],LS.l100,727,750,310);
</script></body></html>
